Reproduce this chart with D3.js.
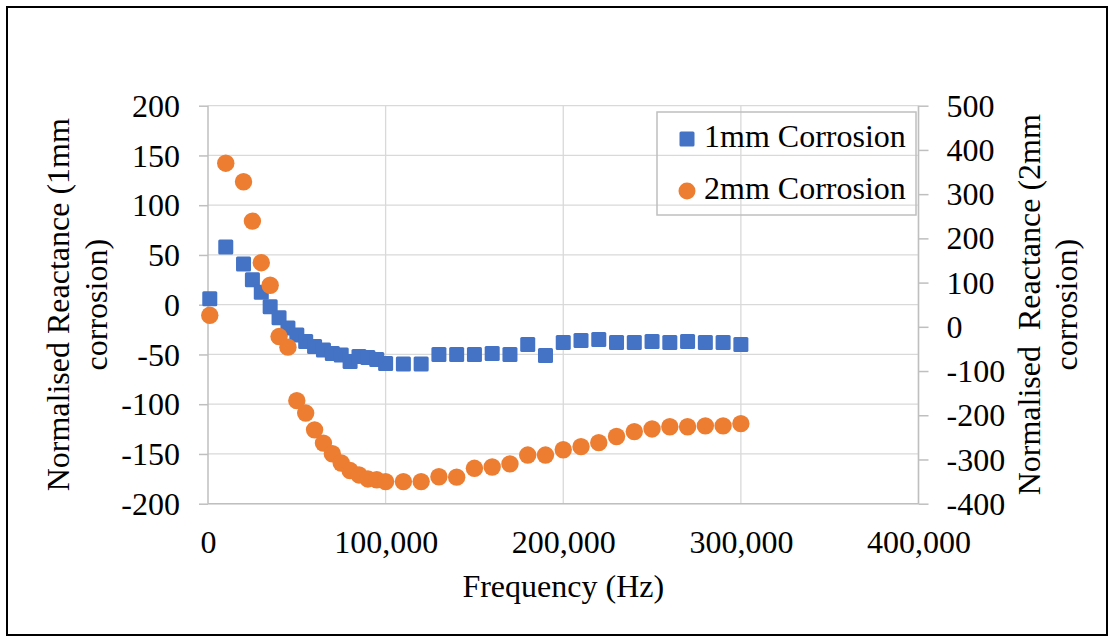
<!DOCTYPE html>
<html>
<head>
<meta charset="utf-8">
<script src="https://cdn.jsdelivr.net/npm/d3@7"></script>
<style>
  body { margin: 0; background: #fff; }
  svg text { font-family: "Liberation Serif", "Times New Roman", serif; fill: #000; }
</style>
</head>
<body>
<div id="chart"></div>
<script>
// frequency points (Hz)
var frequency = [1000, 10000, 20000, 25000, 30000, 35000, 40000, 45000, 50000, 55000,
  60000, 65000, 70000, 75000, 80000, 85000, 90000, 95000, 100000, 110000,
  120000, 130000, 140000, 150000, 160000, 170000, 180000, 190000, 200000, 210000,
  220000, 230000, 240000, 250000, 260000, 270000, 280000, 290000, 300000];

// normalised reactance, 1mm corrosion (left axis)
var reactance1mm = [6, 58, 41, 25, 12.5, -2, -13, -23.5, -30.5, -37,
  -42, -45.5, -49, -50.5, -57, -52, -53, -55, -59, -59.5,
  -59.5, -50, -50, -50, -49, -50, -40, -51, -38, -36,
  -35, -38, -38, -37, -38, -37, -38, -38, -40];

// normalised reactance, 2mm corrosion (right axis)
var reactance2mm = [26, 370, 328, 239, 145, 94, -22, -46, -167, -195,
  -233, -263, -287, -308, -325, -335, -344, -346, -350, -350,
  -350, -339, -340, -320, -317, -310, -290, -290, -278, -271,
  -262, -248, -237, -231, -226, -226, -224, -224, -219];

var xTicks = [0, 100000, 200000, 300000, 400000];
var yLeftTicks = [200, 150, 100, 50, 0, -50, -100, -150, -200];
var yRightTicks = [500, 400, 300, 200, 100, 0, -100, -200, -300, -400];
var seriesNames = ['1mm Corrosion', '2mm Corrosion'];
var seriesColors = ['#4472C4', '#ED7D31'];

var W = 1113, H = 637;
var plot = { left: 208, right: 918.5, top: 105.7, bottom: 503.7 };
var fontSize = '32px';

var svg = d3.select('#chart').append('svg')
  .attr('width', W)
  .attr('height', H);

svg.append('rect')
  .attr('width', W).attr('height', H)
  .attr('fill', '#fff');

// outer chart border
svg.append('rect')
  .attr('x', 7).attr('y', 7)
  .attr('width', 1100).attr('height', 628)
  .attr('fill', 'none')
  .attr('stroke', '#000')
  .attr('stroke-width', 2);

var x = d3.scaleLinear().domain([0, 400000]).range([plot.left, plot.right]);
var yL = d3.scaleLinear().domain([-200, 200]).range([plot.bottom, plot.top]);
var yR = d3.scaleLinear().domain([-400, 500]).range([plot.bottom, plot.top]);

// gridlines
var grid = svg.append('g').attr('stroke', '#d9d9d9').attr('stroke-width', 1.3);
grid.selectAll('.gh').data(yLeftTicks).enter().append('line')
  .attr('x1', plot.left).attr('x2', plot.right)
  .attr('y1', function (d) { return yL(d); })
  .attr('y2', function (d) { return yL(d); });
grid.selectAll('.gv').data(xTicks.slice(1)).enter().append('line')
  .attr('x1', function (d) { return x(d); })
  .attr('x2', function (d) { return x(d); })
  .attr('y1', plot.top).attr('y2', plot.bottom);

// plain hyphen for negatives, like the original
var fmtX = function (d) { return d3.format(',')(d).replace('\u2212', '-'); };
var fmtY = function (d) { return String(d); };

// axes
var gx = svg.append('g')
  .attr('transform', 'translate(0,' + plot.bottom + ')')
  .call(d3.axisBottom(x).tickValues(xTicks).tickFormat(fmtX).tickSize(0).tickPadding(27));

var gl = svg.append('g')
  .attr('transform', 'translate(' + plot.left + ',0)')
  .call(d3.axisLeft(yL).tickValues(yLeftTicks).tickFormat(fmtY).tickSize(9).tickPadding(19));

var gr = svg.append('g')
  .attr('transform', 'translate(' + plot.right + ',0)')
  .call(d3.axisRight(yR).tickValues(yRightTicks).tickFormat(fmtY).tickSize(10).tickPadding(18));

[gx, gl, gr].forEach(function (g) {
  g.select('.domain').attr('stroke', '#bfbfbf').attr('stroke-width', 1.5);
  g.selectAll('.tick line').attr('stroke', '#bfbfbf').attr('stroke-width', 1.5);
  g.selectAll('text')
    .style('font-family', '"Liberation Serif", serif')
    .style('font-size', fontSize)
    .attr('fill', '#000');
});
gx.select('.domain').attr('d', 'M' + plot.left + ',0H' + plot.right);
gl.select('.domain').attr('d', 'M0,' + plot.top + 'V' + plot.bottom);
gr.select('.domain').attr('d', 'M0,' + plot.top + 'V' + plot.bottom);
gl.selectAll('.tick text').attr('dy', '0.33em');
gr.selectAll('.tick text').attr('dy', '0.33em');

// axis titles
svg.append('text')
  .attr('x', (plot.left + plot.right) / 2)
  .attr('y', 597)
  .attr('text-anchor', 'middle')
  .style('font-size', fontSize)
  .text('Frequency (Hz)');

var leftTitle = svg.append('text')
  .attr('transform', 'translate(69,' + (plot.top + plot.bottom) / 2 + ') rotate(-90)')
  .attr('text-anchor', 'middle')
  .style('font-size', fontSize);
leftTitle.append('tspan').attr('x', 0).attr('y', 0).text('Normalised Reactance (1mm');
leftTitle.append('tspan').attr('x', 0).attr('y', 38).text('corrosion)');

var rightTitle = svg.append('text')
  .attr('transform', 'translate(1040,' + (plot.top + plot.bottom) / 2 + ') rotate(-90)')
  .attr('text-anchor', 'middle')
  .attr('xml:space', 'preserve')
  .style('white-space', 'pre')
  .style('font-size', fontSize);
rightTitle.append('tspan').attr('x', 0).attr('y', 0).text('Normalised  Reactance (2mm');
rightTitle.append('tspan').attr('x', 0).attr('y', 37).text('corrosion)');

// series 1: squares on left axis
var sq = 15;
svg.append('g').selectAll('rect')
  .data(frequency)
  .enter().append('rect')
  .attr('x', function (d) { return x(d) - sq / 2; })
  .attr('y', function (d, i) { return yL(reactance1mm[i]) - sq / 2; })
  .attr('width', sq).attr('height', sq)
  .attr('rx', 1.5)
  .attr('fill', seriesColors[0]);

// series 2: circles on right axis
svg.append('g').selectAll('circle')
  .data(frequency)
  .enter().append('circle')
  .attr('cx', function (d) { return x(d); })
  .attr('cy', function (d, i) { return yR(reactance2mm[i]); })
  .attr('r', 8.7)
  .attr('fill', seriesColors[1]);

// legend
var lg = svg.append('g');
lg.append('rect')
  .attr('x', 657).attr('y', 112)
  .attr('width', 259).attr('height', 103)
  .attr('fill', 'none')
  .attr('stroke', '#bfbfbf')
  .attr('stroke-width', 1.5);
lg.append('rect')
  .attr('x', 687 - 7.5).attr('y', 139 - 7.5)
  .attr('width', 15).attr('height', 15)
  .attr('rx', 1.5)
  .attr('fill', seriesColors[0]);
lg.append('circle')
  .attr('cx', 687).attr('cy', 191)
  .attr('r', 8.5)
  .attr('fill', seriesColors[1]);
lg.selectAll('text.lab').data(seriesNames).enter().append('text')
  .attr('class', 'lab')
  .attr('x', 704)
  .attr('y', function (d, i) { return i === 0 ? 147 : 199; })
  .style('font-size', fontSize)
  .text(function (d) { return d; });
</script>
</body>
</html>
